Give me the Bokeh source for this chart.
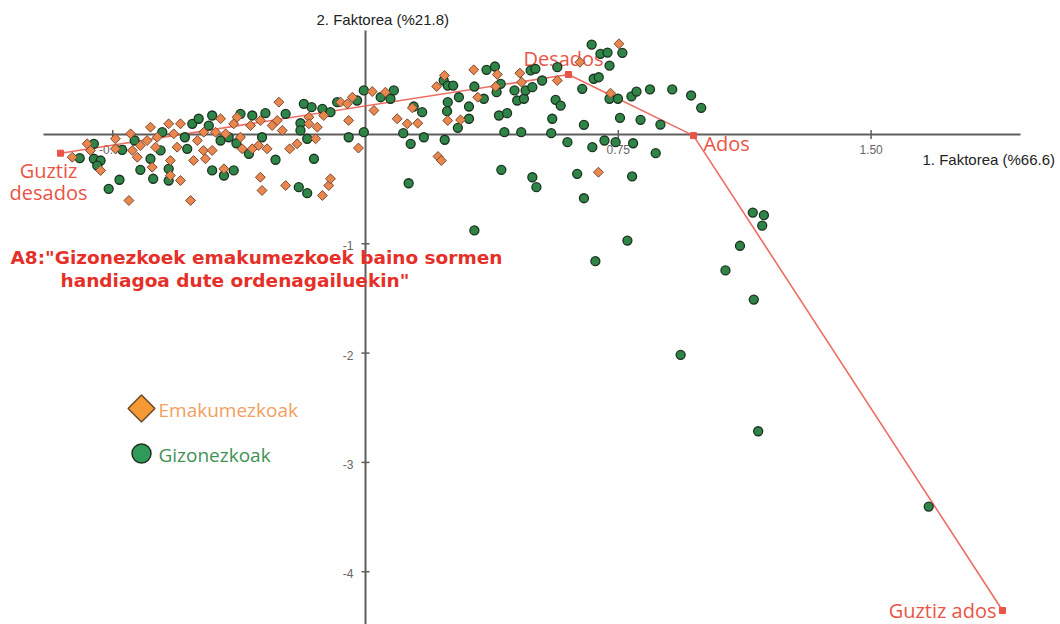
import math
from bokeh.plotting import figure
from bokeh.models import Range1d
from bokeh.core.properties import value
from bokeh.embed import file_html
from bokeh.resources import INLINE

# Response categories of item A8 on the first two factors
categories = ["Guztiz desados", "Desados", "Ados", "Guztiz ados"]
cat_f1 = [-0.905, 0.602, 0.973, 1.890]
cat_f2 = [-0.171, 0.549, -0.010, -4.355]

# Respondents: women (Emakumezkoak)
emak_f1 = [-0.870, -0.826, -0.816, -0.786, -0.742, -0.742, -0.697, -0.692, -0.677, -0.668,
           -0.648, -0.638, -0.623, -0.618, -0.633, -0.579, -0.579, -0.549, -0.559, -0.549,
           -0.569, -0.510, -0.499, -0.481, -0.702, -0.519, -0.584, -0.480, -0.475, -0.455,
           -0.445, -0.430, -0.415, -0.391, -0.381, -0.371, -0.366, -0.341, -0.336, -0.317,
           -0.312, -0.292, -0.277, -0.262, -0.257, -0.247, -0.225, -0.203, -0.168, -0.168,
           -0.143, -0.148, -0.124, -0.074, -0.054, -0.039, -0.050, -0.021, -0.420, -0.312,
           -0.307, -0.237, -0.128, -0.109, -0.104, 0.020, 0.025, 0.059, 0.094, 0.124,
           0.139, 0.155, 0.211, 0.234, 0.244, 0.282, 0.321, 0.333, 0.386, 0.391,
           0.458, 0.463, 0.215, 0.225, 0.752, 0.636, 0.569, 0.727, 0.691]
emak_f2 = [-0.208, -0.085, -0.146, -0.329, -0.039, -0.131, 0.006, -0.146, -0.208, -0.101,
           -0.055, 0.067, -0.116, -0.025, -0.299, -0.238, -0.375, -0.421, -0.116, 0.098,
           0.006, -0.238, -0.055, -0.146, -0.604, -0.604, 0.098, 0.021, -0.222, -0.146,
           0.021, 0.144, 0.006, 0.098, 0.158, -0.025, -0.131, 0.082, -0.131, -0.101,
           0.128, -0.131, 0.082, 0.128, 0.296, 0.037, -0.131, -0.085, 0.158, 0.098,
           0.067, -0.039, 0.174, 0.296, 0.281, 0.341, 0.128, -0.124, -0.314, -0.391,
           -0.512, -0.467, -0.558, -0.467, -0.405, 0.393, 0.220, 0.387, 0.144, 0.098,
           0.244, 0.103, 0.439, 0.540, 0.128, 0.134, 0.592, 0.341, 0.439, 0.549,
           0.561, 0.479, -0.201, -0.238, 0.830, 0.661, 0.494, 0.378, -0.345]

# Respondents: men (Gizonezkoak)
giz_f1 = [-0.848, -0.806, -0.806, -0.786, -0.796, -0.730, -0.762, -0.668, -0.722, -0.685,
          -0.603, -0.630, -0.584, -0.584, -0.608, -0.638, -0.529, -0.536, -0.514, -0.495,
          -0.455, -0.465, -0.430, -0.406, -0.371, -0.383, -0.346, -0.336, -0.307, -0.297,
          -0.267, -0.237, -0.455, -0.420, -0.391, -0.183, -0.160, -0.193, -0.193, -0.173,
          -0.153, -0.128, -0.104, -0.084, -0.050, -0.025, -0.005, -0.005, -0.198, -0.173,
          0.045, 0.074, 0.084, 0.112, 0.134, 0.143, 0.168, 0.173, 0.128, 0.232,
          0.244, 0.260, 0.244, 0.242, 0.235, 0.277, 0.274, 0.307, 0.307, 0.323,
          0.351, 0.359, 0.384, 0.389, 0.401, 0.396, 0.420, 0.412, 0.462, 0.403,
          0.442, 0.450, 0.470, 0.475, 0.495, 0.490, 0.504, 0.495, 0.507, 0.323,
          0.671, 0.697, 0.718, 0.762, 0.724, 0.569, 0.524, 0.643, 0.677, 0.692,
          0.564, 0.579, 0.554, 0.648, 0.551, 0.599, 0.673, 0.709, 0.742, 0.794,
          0.724, 0.749, 0.755, 0.789, 0.804, 0.816, 0.844, 0.875, 0.910, 0.966,
          0.996, 0.861, 0.628, 0.791, 0.648, 0.777, 0.682, 1.149, 1.182, 1.177,
          1.111, 1.068, 1.152, 0.935, 1.165, 1.671]
giz_f2 = [-0.217, -0.085, -0.222, -0.238, -0.284, -0.414, -0.497, -0.323, -0.140, -0.055,
          0.021, -0.405, -0.314, -0.421, -0.146, -0.222, -0.131, -0.025, 0.098, 0.144,
          0.174, 0.082, -0.055, -0.025, 0.189, -0.080, -0.177, 0.174, -0.025, 0.195,
          -0.231, 0.189, -0.329, -0.375, -0.329, 0.281, 0.250, 0.103, 0.037, -0.039,
          -0.222, 0.235, 0.204, 0.296, -0.025, 0.311, 0.403, 0.021, -0.482, -0.537,
          0.341, 0.327, 0.403, 0.012, -0.085, 0.256, 0.204, -0.025, -0.446, 0.494,
          0.448, 0.448, 0.296, 0.213, -0.048, 0.341, 0.061, 0.256, 0.144, 0.439,
          0.327, 0.592, 0.622, 0.387, 0.464, 0.174, 0.195, 0.021, 0.021, -0.323,
          0.403, 0.311, 0.327, 0.403, 0.433, 0.586, 0.601, -0.391, -0.482, -0.878,
          0.823, 0.738, 0.750, 0.747, 0.631, 0.616, 0.494, 0.418, 0.510, 0.524,
          0.317, 0.265, 0.144, 0.089, 0.012, -0.070, -0.116, -0.055, -0.070, -0.080,
          0.327, 0.327, 0.153, 0.348, 0.393, 0.134, 0.412, 0.091, 0.412, 0.357,
          0.244, -0.171, -0.360, -0.384, -0.583, -0.970, -1.159, -0.714, -0.738, -0.833,
          -1.018, -1.244, -1.510, -2.016, -2.715, -3.404]

x_ticks = [-0.75, 0.75, 1.50]
x_tick_labels = ["-0.75", "0.75", "1.50"]
y_ticks = [-1, -2, -3, -4]
y_tick_labels = ["-1", "-2", "-3", "-4"]

x_title = "1. Faktorea (%66.6)"
y_title = "2. Faktorea (%21.8)"
title_lines = ['A8:"Gizonezkoek emakumezkoek baino sormen', 'handiagoa dute ordenagailuekin"']
legend_names = ["Emakumezkoak", "Gizonezkoak"]

W, H = 1060, 624
X0, X1 = -1.083, 2.062
Y0, Y1 = -4.483, 1.226

RED = "#ea5446"
ORANGE = "#e9874e"
GREEN = "#2f8548"


def sx(px):
    """screen x (pixels from left) -> data x"""
    return X0 + px / W * (X1 - X0)


def sy(py):
    """screen y (pixels from top) -> data y"""
    return Y1 - py / H * (Y1 - Y0)


p = figure(width=W, height=H, x_range=Range1d(X0, X1), y_range=Range1d(Y0, Y1),
           x_axis_type=None, y_axis_type=None, toolbar_location=None,
           output_backend="svg", min_border=0, outline_line_color=None,
           background_fill_color="white", border_fill_color="white")
p.xgrid.visible = False
p.ygrid.visible = False

# factor axes crossing at the origin
p.segment(x0=[sx(43), 0], y0=[0, sy(30)], x1=[sx(1020), 0], y1=[0, Y0],
          line_color="#5e5e5e", line_width=2)
p.scatter(x=x_ticks, y=[0] * len(x_ticks), marker="dash", size=9, angle=math.pi / 2,
          line_color="#5e5e5e", line_width=1.5)
p.scatter(x=[0] * len(y_ticks), y=y_ticks, marker="dash", size=8,
          line_color="#5e5e5e", line_width=1.5)
p.text(x=x_ticks, y=[0] * len(x_ticks), text=x_tick_labels, text_font=value("Liberation Sans"),
       text_font_size="12px", text_color="#666666", text_align="center",
       text_baseline="middle", y_offset=15)
p.text(x=[0] * len(y_ticks), y=y_ticks, text=y_tick_labels, text_font=value("Liberation Sans"),
       text_font_size="12px", text_color="#666666", text_align="right",
       text_baseline="middle", x_offset=-12, y_offset=2)

# axis names
p.text(x=[sx(316)], y=[sy(19)], text=[y_title], text_font=value("Liberation Sans"),
       text_font_size="15px", text_color="#222222", text_align="left", text_baseline="middle")
p.text(x=[sx(922)], y=[sy(159)], text=[x_title], text_font=value("Liberation Sans"),
       text_font_size="15px", text_color="#222222", text_align="left", text_baseline="middle")

# category trajectory
p.line(x=cat_f1, y=cat_f2, line_color=RED, line_width=1.6, line_alpha=0.85)
p.scatter(x=cat_f1, y=cat_f2, marker="square", size=6, fill_color=RED, line_color=RED)

# category labels (line text, category index, dx, dy, alignment)
cat_label_specs = [("Guztiz", 0, -12, 17, "center"),
                   ("desados", 0, -12, 39, "center"),
                   (categories[1], 1, -45, -16, "left"),
                   (categories[2], 2, 10, 8, "left"),
                   (categories[3], 3, -6, 0, "right")]
p.text(x=[cat_f1[s[1]] for s in cat_label_specs],
       y=[cat_f2[s[1]] for s in cat_label_specs],
       text=[s[0] for s in cat_label_specs],
       x_offset=[s[2] for s in cat_label_specs],
       y_offset=[s[3] for s in cat_label_specs],
       text_align=[s[4] for s in cat_label_specs],
       text_font=value("Open Sans"), text_font_size="20px", text_color=RED,
       text_baseline="middle")

# individuals
p.scatter(x=giz_f1, y=giz_f2, marker="circle", size=9, fill_color=GREEN,
          line_color="#1c3320", line_width=1.3)
p.scatter(x=emak_f1, y=emak_f2, marker="square", angle=math.pi / 4, size=7,
          fill_color=ORANGE, line_color="#7a4a30", line_width=1)

# item statement
p.text(x=[sx(10), sx(60)], y=[sy(257), sy(280)], text=title_lines,
       text_font=value("DejaVu Sans"), text_font_style="bold", text_font_size="18.5px",
       text_color="#e5302a", text_align="left", text_baseline="middle")

# legend
p.scatter(x=[sx(141)], y=[sy(408)], marker="square", angle=math.pi / 4, size=19,
          fill_color="#f39a35", line_color="#6a4a2a", line_width=1.5)
p.scatter(x=[sx(141)], y=[sy(453)], marker="circle", size=19,
          fill_color="#2f9a5a", line_color="#1c3320", line_width=1.5)
p.text(x=[sx(158), sx(158)], y=[sy(409), sy(454)], text=legend_names,
       text_color=["#f0a060", "#3f9255"], text_font=value("Open Sans"),
       text_font_size="19px", text_align="left", text_baseline="middle")

open("out.html", "w").write(file_html(p, INLINE))
